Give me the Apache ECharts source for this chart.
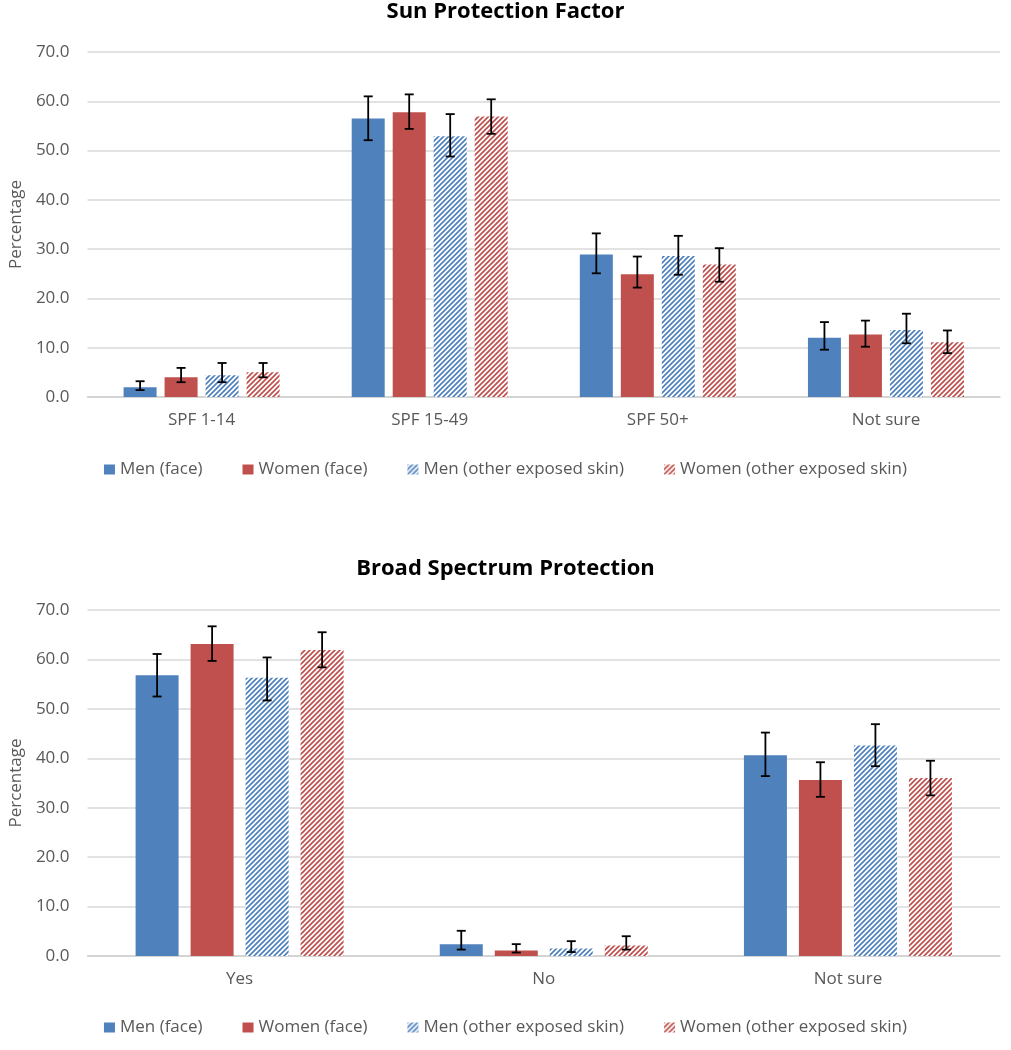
<!DOCTYPE html>
<html>
<head>
<meta charset="utf-8">
<script src="https://cdn.jsdelivr.net/npm/echarts@6/dist/echarts.min.js"></script>
<style>
html,body{margin:0;padding:0;background:#fff;}
#c{width:1011px;height:1050px;}
</style>
</head>
<body>
<div id="c"></div>
<script>
// ---------- data ----------
var seriesNames = ['Men (face)', 'Women (face)', 'Men (other exposed skin)', 'Women (other exposed skin)'];
var yTicks = [0, 10, 20, 30, 40, 50, 60, 70];

var spfCats = ['SPF 1-14', 'SPF 15-49', 'SPF 50+', 'Not sure'];
var spfMenFace = [2.0, 56.5, 28.9, 12.0];
var spfWomenFace = [4.0, 57.8, 24.9, 12.7];
var spfMenOther = [4.4, 52.9, 28.6, 13.6];
var spfWomenOther = [5.0, 56.9, 26.9, 11.1];
var spfMenFaceLo = [1.4, 52.1, 25.1, 9.6];
var spfMenFaceHi = [3.2, 61.0, 33.2, 15.2];
var spfWomenFaceLo = [3.0, 54.4, 22.2, 10.2];
var spfWomenFaceHi = [5.9, 61.4, 28.5, 15.5];
var spfMenOtherLo = [3.0, 48.8, 24.8, 10.9];
var spfMenOtherHi = [6.9, 57.4, 32.7, 16.9];
var spfWomenOtherLo = [4.0, 53.4, 23.4, 8.9];
var spfWomenOtherHi = [6.9, 60.4, 30.2, 13.5];

var bsCats = ['Yes', 'No', 'Not sure'];
var bsMenFace = [56.8, 2.4, 40.6];
var bsWomenFace = [63.1, 1.1, 35.6];
var bsMenOther = [56.3, 1.5, 42.6];
var bsWomenOther = [61.9, 2.1, 36.0];
var bsMenFaceLo = [52.5, 1.3, 36.4];
var bsMenFaceHi = [61.1, 5.1, 45.2];
var bsWomenFaceLo = [59.7, 0.7, 32.2];
var bsWomenFaceHi = [66.7, 2.4, 39.2];
var bsMenOtherLo = [51.7, 0.8, 38.4];
var bsMenOtherHi = [60.4, 3.0, 46.9];
var bsWomenOtherLo = [58.4, 1.3, 32.5];
var bsWomenOtherHi = [65.5, 4.0, 39.5];

// ---------- style ----------
var BLUE = '#4F81BD', RED = '#C0504D';
var TXT = '#595959';
var FONT = '"Open Sans", "Liberation Sans", sans-serif';

function hatch(color) {
  var s = 5;
  var cv = document.createElement('canvas');
  cv.width = s; cv.height = s;
  var ctx = cv.getContext('2d');
  ctx.fillStyle = '#fff';
  ctx.fillRect(0, 0, s, s);
  ctx.strokeStyle = color;
  ctx.lineWidth = 1.7;
  ctx.beginPath();
  ctx.moveTo(-1, s + 1); ctx.lineTo(s + 1, -1);
  ctx.moveTo(-1, 1); ctx.lineTo(1, -1);
  ctx.moveTo(s - 1, s + 1); ctx.lineTo(s + 1, s - 1);
  ctx.stroke();
  return { image: cv, repeat: 'repeat' };
}
var colors = [BLUE, RED, hatch(BLUE), hatch(RED)];

var chart = echarts.init(document.getElementById('c'), null, { renderer: 'canvas' });

var panels = [
  { title: 'Sun Protection Factor', titleTop: -4, cats: spfCats,
    vals: [spfMenFace, spfWomenFace, spfMenOther, spfWomenOther],
    lo: [spfMenFaceLo, spfWomenFaceLo, spfMenOtherLo, spfWomenOtherLo],
    hi: [spfMenFaceHi, spfWomenFaceHi, spfMenOtherHi, spfWomenOtherHi],
    gridTop: 52, gridH: 345, bw: 33, gap: 8, legendTop: 456 },
  { title: 'Broad Spectrum Protection', titleTop: 553, cats: bsCats,
    vals: [bsMenFace, bsWomenFace, bsMenOther, bsWomenOther],
    lo: [bsMenFaceLo, bsWomenFaceLo, bsMenOtherLo, bsWomenOtherLo],
    hi: [bsMenFaceHi, bsWomenFaceHi, bsMenOtherHi, bsWomenOtherHi],
    gridTop: 610, gridH: 346, bw: 43, gap: 12, legendTop: 1014 }
];

var option = {
  backgroundColor: '#fff',
  animation: false,
  textStyle: { fontFamily: FONT },
  title: [], legend: [], grid: [], xAxis: [], yAxis: [], series: []
};

panels.forEach(function (p, pi) {
  option.title.push({
    text: p.title, left: 'center', top: p.titleTop,
    textStyle: { fontFamily: '"Open Sans", sans-serif', fontWeight: 'bold', fontSize: 22, color: '#000' }
  });
  option.legend.push({
    data: seriesNames, top: p.legendTop, left: 'center',
    icon: 'rect', itemWidth: 11, itemHeight: 10, itemGap: 40,
    textStyle: { fontFamily: FONT, fontSize: 17, color: TXT }
  });
  option.grid.push({ left: 87, right: 11, top: p.gridTop, height: p.gridH, containLabel: false });
  option.xAxis.push({
    type: 'category', gridIndex: pi, data: p.cats,
    axisLine: { lineStyle: { color: '#d0d0d0', width: 1.5 } },
    axisTick: { show: false },
    axisLabel: { color: TXT, fontSize: 17, fontFamily: FONT, margin: 15 }
  });
  option.yAxis.push({
    type: 'value', gridIndex: pi, min: yTicks[0], max: yTicks[yTicks.length - 1], interval: 10,
    name: 'Percentage', nameLocation: 'middle', nameGap: 62, nameRotate: 90,
    nameTextStyle: { color: TXT, fontSize: 17, fontFamily: FONT },
    axisLine: { show: false }, axisTick: { show: false },
    splitLine: { lineStyle: { color: '#d9d9d9', width: 1.5 } },
    axisLabel: { color: TXT, fontSize: 17, fontFamily: FONT, margin: 18,
      formatter: function (v) { return v.toFixed(1); } }
  });
  p.vals.forEach(function (vals, si) {
    option.series.push({
      name: seriesNames[si], type: 'bar', xAxisIndex: pi, yAxisIndex: pi,
      data: vals, barWidth: p.bw, barGap: (p.gap / p.bw * 100) + '%',
      itemStyle: { color: colors[si] }
    });
  });
  // error bars
  p.vals.forEach(function (vals, si) {
    var data = p.cats.map(function (c, ci) { return [ci, p.lo[si][ci], p.hi[si][ci]]; });
    option.series.push({
      type: 'custom', xAxisIndex: pi, yAxisIndex: pi, silent: true, z: 10,
      data: data,
      renderItem: function (params, api) {
        var ci = api.value(0);
        var lo = api.coord([ci, api.value(1)]);
        var hi = api.coord([ci, api.value(2)]);
        var groupW = 4 * p.bw + 3 * p.gap;
        var x = lo[0] - groupW / 2 + p.bw / 2 + si * (p.bw + p.gap);
        var cap = 4.5;
        var st = { stroke: '#000', lineWidth: 1.8 };
        return {
          type: 'group', children: [
            { type: 'line', shape: { x1: x, y1: lo[1], x2: x, y2: hi[1] }, style: st },
            { type: 'line', shape: { x1: x - cap, y1: lo[1], x2: x + cap, y2: lo[1] }, style: st },
            { type: 'line', shape: { x1: x - cap, y1: hi[1], x2: x + cap, y2: hi[1] }, style: st }
          ]
        };
      }
    });
  });
});

chart.setOption(option);
</script>
</body>
</html>
